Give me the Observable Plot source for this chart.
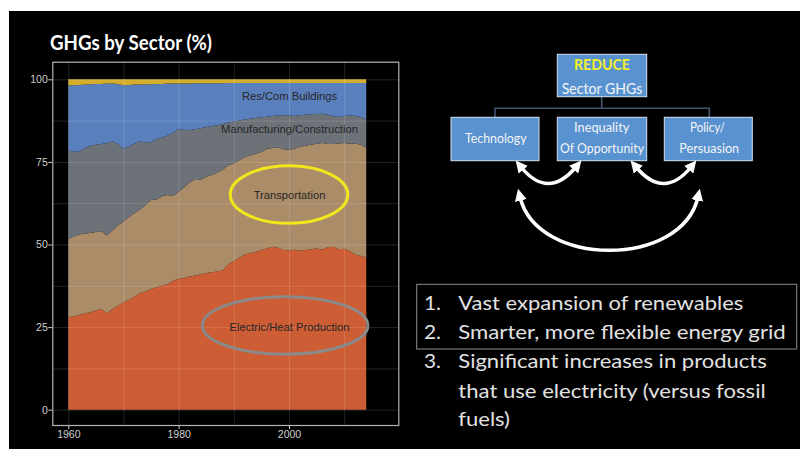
<!DOCTYPE html>
<html>
<head>
<meta charset="utf-8">
<script src="https://cdn.jsdelivr.net/npm/d3@7"></script>
<script src="https://cdn.jsdelivr.net/npm/@observablehq/plot@0.6"></script>
<style>
  html, body { margin: 0; padding: 0; background: #fff; }
  #slide { position: relative; width: 800px; height: 449px; overflow: hidden; background: #fff; }
  #black { position: absolute; left: 9px; top: 11px; right: 0; bottom: 0; background: #000; }
  #chart { position: absolute; left: 0; top: 0; }
  #overlay { position: absolute; left: 0; top: 0; }
</style>
</head>
<body>
<div id="slide">
  <div id="black"></div>
  <div id="chart"></div>
  <svg id="overlay" width="800" height="449"></svg>
</div>
<script>
// ---------- DATA (percent share of GHG emissions by sector) ----------
const years = d3.range(1960, 2015);
const sectorNames = ["Electric/Heat Production", "Transportation", "Manufacturing/Construction", "Res/Com Buildings", "Other"];
const sectorColors = ["#cd5d34", "#aa8c69", "#6c7278", "#5a7fbd", "#d4ad2a"];

const electric = [28.0,28.3,28.7,29.2,29.5,30.0,30.5,29.2,30.5,31.5,
                  32.5,33.3,34.3,35.3,35.8,36.5,37.1,37.5,38.0,39.0,
                  39.6,39.9,40.3,40.6,41.0,41.4,41.6,41.8,42.2,44.0,
                  45.0,46.0,47.0,47.4,47.8,48.3,48.8,49.3,49.0,48.3,
                  48.2,48.4,48.2,48.3,48.6,48.8,48.5,49.2,49.3,48.6,
                  48.7,48.0,47.0,46.6,46.0];
const transport = [23.7,24.2,24.3,24.1,24.0,23.8,23.5,23.5,23.8,24.3,
                   24.5,25.0,25.2,25.3,26.2,27.0,26.5,27.1,27.0,25.7,
                   26.4,27.4,28.5,29.2,28.6,29.1,29.4,30.0,30.4,30.0,
                   29.5,29.5,29.5,29.6,29.7,29.7,30.2,29.9,30.4,30.5,
                   30.4,30.6,31.4,31.6,31.6,31.7,32.2,31.2,31.1,32.0,
                   32.0,32.5,33.6,33.6,33.3];
const manufacturing = [26.8,25.5,25.2,25.9,26.4,26.4,26.4,28.0,26.9,24.6,
                       22.0,21.4,21.0,20.6,18.9,17.5,18.3,17.8,18.0,19.2,
                       18.9,17.4,15.8,15.1,15.6,15.1,14.9,14.3,13.9,12.9,
                       12.7,12.0,11.3,11.1,10.8,10.5,9.7,9.7,9.7,10.3,
                       10.5,9.9,9.5,9.4,9.2,9.0,8.9,8.9,8.5,8.0,
                       8.2,8.6,8.3,8.4,8.6];
const buildings = [19.6,20.2,20.1,19.2,18.6,18.4,18.2,18.0,17.5,18.2,
                   19.2,18.6,17.9,17.2,17.6,17.5,16.7,16.2,15.7,14.8,
                   13.8,14.0,14.1,13.9,13.6,13.2,12.9,12.7,12.3,12.0,
                   11.7,11.4,11.1,10.8,10.6,10.4,10.2,10.0,9.8,9.8,
                   9.8,10.0,9.8,9.6,9.5,9.4,9.3,9.6,10.0,10.3,
                   10.0,9.8,10.0,10.3,11.0];
const other = [1.9,1.8,1.7,1.6,1.5,1.4,1.4,1.3,1.3,1.4,
               1.8,1.7,1.6,1.6,1.5,1.5,1.4,1.4,1.3,1.3,
               1.3,1.3,1.3,1.2,1.2,1.2,1.2,1.2,1.2,1.1,
               1.1,1.1,1.1,1.1,1.1,1.1,1.1,1.1,1.1,1.1,
               1.1,1.1,1.1,1.1,1.1,1.1,1.1,1.1,1.1,1.1,
               1.1,1.1,1.1,1.1,1.1];

const xTicks = [1960, 1980, 2000];
const yTicks = [0, 25, 50, 75, 100];
const xGrid = [1960, 1970, 1980, 1990, 2000, 2010];
const yGrid = [0, 12.5, 25, 37.5, 50, 62.5, 75, 87.5, 100];

const labelNames = ["Res/Com Buildings", "Manufacturing/Construction", "Transportation", "Electric/Heat Production"];
const labelX = [2000, 2000, 2000, 2000];
const labelY = [95, 85, 65, 25];

const ellipseNames = ["Transportation", "Electric/Heat Production"];
const ellipseCx = [2000, 1999.3];
const ellipseCy = [65.1, 25.5];
const ellipseRx = [10.65, 15.0];
const ellipseRy = [8.7, 8.7];
const ellipseColors = ["#f2e61c", "#8a8a8a"];

// ---------- build tidy table ----------
const seriesBySector = [electric, transport, manufacturing, buildings, other];
const rows = [];
sectorNames.forEach((s, i) => years.forEach((yr, j) => rows.push({year: yr, sector: s, share: seriesBySector[i][j]})));
const labels = labelNames.map((t, i) => ({text: t, x: labelX[i], y: labelY[i]}));

const chart = Plot.plot({
  width: 410,
  height: 449,
  marginLeft: 52.3,
  marginRight: 11.7,
  marginTop: 61.7,
  marginBottom: 24,
  style: {background: "transparent", color: "#cfcfcf", fontSize: "10.5px", fontFamily: "'Liberation Sans', Arial, sans-serif"},
  x: {domain: [1957.1, 2019.81], ticks: xTicks, tickFormat: d => String(d), tickSize: 4, tickPadding: 1, label: null},
  y: {domain: [-4.63, 105.33], ticks: yTicks, tickSize: 4, tickPadding: 1, label: null},
  color: {domain: sectorNames, range: sectorColors},
  marks: [
    Plot.areaY(rows, {x: "year", y: "share", fill: "sector", order: sectorNames}),
    Plot.ruleX(xGrid, {stroke: "#ffffff", strokeOpacity: 0.14, strokeWidth: 1}),
    Plot.ruleY(yGrid, {stroke: "#ffffff", strokeOpacity: 0.14, strokeWidth: 1}),
    Plot.frame({stroke: "#b4b4b4", strokeWidth: 1.2}),
    Plot.text(labels, {x: "x", y: "y", text: "text", fill: "#262626", fontSize: 11.2, fontFamily: "'Liberation Sans', Arial, sans-serif"})
  ]
});
document.getElementById("chart").appendChild(chart);

// ellipses placed with the plot's own scales
const sx = chart.scale("x"), sy = chart.scale("y");
const xs = d3.scaleLinear(sx.domain, sx.range);
const ys = d3.scaleLinear(sy.domain, sy.range);
const csvg = d3.select(chart.tagName.toLowerCase() === "svg" ? chart : chart.querySelector("svg"));
ellipseNames.forEach((n, i) => {
  csvg.append("ellipse")
    .attr("cx", xs(ellipseCx[i]))
    .attr("cy", ys(ellipseCy[i]))
    .attr("rx", Math.abs(xs(ellipseCx[i] + ellipseRx[i]) - xs(ellipseCx[i])))
    .attr("ry", Math.abs(ys(ellipseCy[i] + ellipseRy[i]) - ys(ellipseCy[i])))
    .attr("fill", "none")
    .attr("stroke", ellipseColors[i])
    .attr("stroke-width", 3);
});

// ---------- slide overlay: title, diagram, list ----------
const ov = d3.select("#overlay");
const FONT = "Lato, 'Open Sans', sans-serif";
ov.append("text").attr("x", 50).attr("y", 50).attr("fill", "#fff")
  .attr("font-family", FONT).attr("font-weight", 700).attr("font-size", 20.5)
  .attr("textLength", 162).attr("lengthAdjust", "spacingAndGlyphs")
  .text("GHGs by Sector (%)");

const defs = ov.append("defs");
defs.append("marker").attr("id", "ah").attr("viewBox", "0 0 10 10")
  .attr("refX", 3).attr("refY", 5).attr("markerWidth", 12).attr("markerHeight", 12)
  .attr("markerUnits", "userSpaceOnUse").attr("orient", "auto-start-reverse")
  .append("path").attr("d", "M0,0 L10,5 L0,10 z").attr("fill", "#fff");

// connectors
const conn = "#42566f";
ov.append("path").attr("d", "M601.7,96.7 V108.3 M495,117.3 V108.3 H709.3 V117.3")
  .attr("fill", "none").attr("stroke", conn).attr("stroke-width", 1.6);

const boxFill = "#5892d0", boxStroke = "#d5e3f2";
const boxes = [
  {x: 557.3, y: 54.3, w: 89.4, h: 42.4},
  {x: 451, y: 117.3, w: 88, h: 43.4},
  {x: 557.3, y: 117.3, w: 89.4, h: 43.4},
  {x: 664.3, y: 117.3, w: 88, h: 43.4}
];
boxes.forEach(b => ov.append("rect").attr("x", b.x).attr("y", b.y).attr("width", b.w).attr("height", b.h)
  .attr("fill", boxFill).attr("stroke", boxStroke).attr("stroke-width", 1));

const boxTexts = [
  {t: "REDUCE", x: 602, y: 70, len: 56, size: 14.5, w: 700, c: "#f4ef2a"},
  {t: "Sector GHGs", x: 602, y: 94, len: 80.7, size: 15, w: 400, c: "#f4f4f4"},
  {t: "Technology", x: 495.8, y: 142.7, len: 61.7, size: 12.5, w: 400, c: "#f4f4f4"},
  {t: "Inequality", x: 601.7, y: 132.3, len: 55.3, size: 12.5, w: 400, c: "#f4f4f4"},
  {t: "Of Opportunity", x: 602, y: 153.3, len: 84, size: 12.5, w: 400, c: "#f4f4f4"},
  {t: "Policy/", x: 707.5, y: 132.3, len: 35, size: 12.5, w: 400, c: "#f4f4f4"},
  {t: "Persuasion", x: 709.2, y: 153.3, len: 59.7, size: 12.5, w: 400, c: "#f4f4f4"}
];
boxTexts.forEach(d => ov.append("text").attr("x", d.x).attr("y", d.y).attr("text-anchor", "middle")
  .attr("fill", d.c).attr("font-family", FONT).attr("font-weight", d.w).attr("font-size", d.size)
  .attr("textLength", d.len).attr("lengthAdjust", "spacingAndGlyphs").text(d.t));

// curved double arrows
const arrows = [
  "M521,167 Q548,200 576,167",
  "M636,167 Q664,200 691,167",
  "M520,197 C537,268 682,268 698,197"
];
arrows.forEach(d => ov.append("path").attr("d", d).attr("fill", "none").attr("stroke", "#fff")
  .attr("stroke-width", 3.5).attr("marker-start", "url(#ah)").attr("marker-end", "url(#ah)"));

// list box
ov.append("rect").attr("x", 416.7).attr("y", 284.3).attr("width", 380).attr("height", 64.7)
  .attr("fill", "none").attr("stroke", "#8c8c8c").attr("stroke-width", 1);

const listNums = ["1.", "2.", "3.", "", ""];
const listLines = ["Vast expansion of renewables", "Smarter, more flexible energy grid",
  "Significant increases in products", "that use electricity (versus fossil", "fuels)"];
const listWidths = [285, 327.4, 308.4, 307.4, 51.7];
const listBase = [310, 338.5, 368, 397.5, 426];
listLines.forEach((t, i) => {
  if (listNums[i]) ov.append("text").attr("x", 424).attr("y", listBase[i]).attr("fill", "#e2e2e2")
    .attr("font-family", FONT).attr("font-size", 20).attr("textLength", 17).attr("lengthAdjust", "spacingAndGlyphs").text(listNums[i]);
  ov.append("text").attr("x", 458.3).attr("y", listBase[i]).attr("fill", "#e2e2e2")
    .attr("font-family", FONT).attr("font-size", 20)
    .attr("textLength", listWidths[i]).attr("lengthAdjust", "spacingAndGlyphs").text(t);
});
</script>
</body>
</html>
